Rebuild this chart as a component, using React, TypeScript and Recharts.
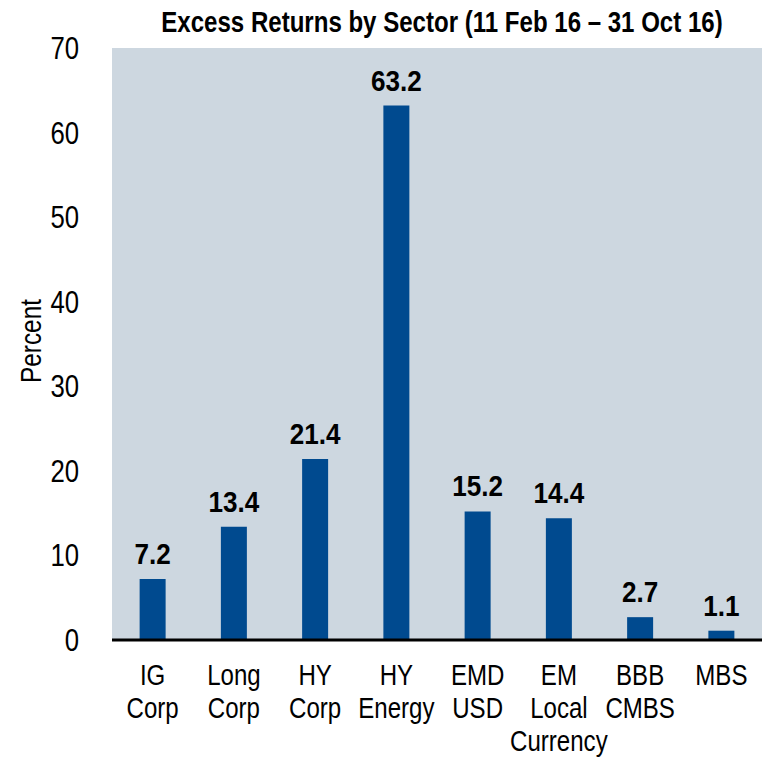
import { BarChart, Bar, XAxis, YAxis, CartesianGrid, LabelList } from 'recharts'

const sectors = ['IG Corp', 'Long Corp', 'HY Corp', 'HY Energy', 'EMD USD', 'EM Local Currency', 'BBB CMBS', 'MBS']
const tickLines = [['IG', 'Corp'], ['Long', 'Corp'], ['HY', 'Corp'], ['HY', 'Energy'], ['EMD', 'USD'], ['EM', 'Local', 'Currency'], ['BBB', 'CMBS'], ['MBS']]
const excessReturns = [7.2, 13.4, 21.4, 63.2, 15.2, 14.4, 2.7, 1.1]
const yTicks = [0, 10, 20, 30, 40, 50, 60, 70]

const data = sectors.map((sector, i) => ({ sector, value: excessReturns[i] }))

const FONT = '"Liberation Sans", Arial, sans-serif'
const BAR_COLOR = '#004a8f'
const PLOT_BG = '#cdd7e0'
// no narrow face installed, so the sans is squeezed horizontally
const SQUEEZE = 0.83

function SectorTick({ x, y, payload }: any) {
  const lines = tickLines[payload.index] || [payload.value]
  return (
    <g transform={`translate(${x},${y}) scale(${SQUEEZE},1)`}>
      <text x={0} y={0} textAnchor="middle" fontFamily={FONT} fontSize={29} fill="#000">
        {lines.map((line, i) => (
          <tspan key={i} x={0} dy={i === 0 ? 37 : 33}>{line}</tspan>
        ))}
      </text>
    </g>
  )
}

function PercentTick({ x, y, payload }: any) {
  return (
    <g transform={`translate(${x},${y + 11}) scale(${SQUEEZE},1)`}>
      <text x={0} y={0} textAnchor="end" fontFamily={FONT} fontSize={31} fill="#000">
        {payload.value}
      </text>
    </g>
  )
}

function ValueLabel({ x, y, width, value }: any) {
  const cx = x + width / 2
  return (
    <g transform={`translate(${cx},${y - 15}) scale(0.9,1)`}>
      <text x={0} y={0} textAnchor="middle" fontFamily={FONT} fontWeight="bold" fontSize={29} fill="#000">
        {value}
      </text>
    </g>
  )
}

function PercentLabel() {
  return (
    <g transform="translate(41,341) rotate(-90) scale(0.84,1)">
      <text x={0} y={0} textAnchor="middle" fontFamily={FONT} fontSize={29} fill="#000">Percent</text>
    </g>
  )
}

export default function App() {
  return (
    <div style={{ position: 'absolute', left: 0, top: 0, width: 763, height: 760, background: '#fff' }}>
      <BarChart
        width={763}
        height={760}
        data={data}
        margin={{ top: 48, right: 1, bottom: 0, left: 0 }}
        barCategoryGap="34%"
      >
        <g transform={`translate(442,32) scale(${SQUEEZE},1)`}>
          <text x={0} y={0} textAnchor="middle" fontFamily={FONT} fontWeight="bold" fontSize={29} fill="#000">
            Excess Returns by Sector (11 Feb 16 – 31 Oct 16)
          </text>
        </g>
        <rect x={112} y={48} width={650} height={592} fill={PLOT_BG} />
        <CartesianGrid vertical={false} stroke="#ffffff" strokeWidth={2} />
        <XAxis
          dataKey="sector"
          tick={<SectorTick />}
          tickLine={false}
          axisLine={{ stroke: '#000', strokeWidth: 3 }}
          height={120}
          interval={0}
        />
        <YAxis
          domain={[0, 70]}
          ticks={yTicks}
          width={112}
          tickLine={false}
          axisLine={false}
          tickMargin={27}
          tick={<PercentTick />}
          label={<PercentLabel />}
        />
        <Bar dataKey="value" fill={BAR_COLOR} isAnimationActive={false}>
          <LabelList dataKey="value" content={<ValueLabel />} />
        </Bar>
      </BarChart>
    </div>
  )
}
